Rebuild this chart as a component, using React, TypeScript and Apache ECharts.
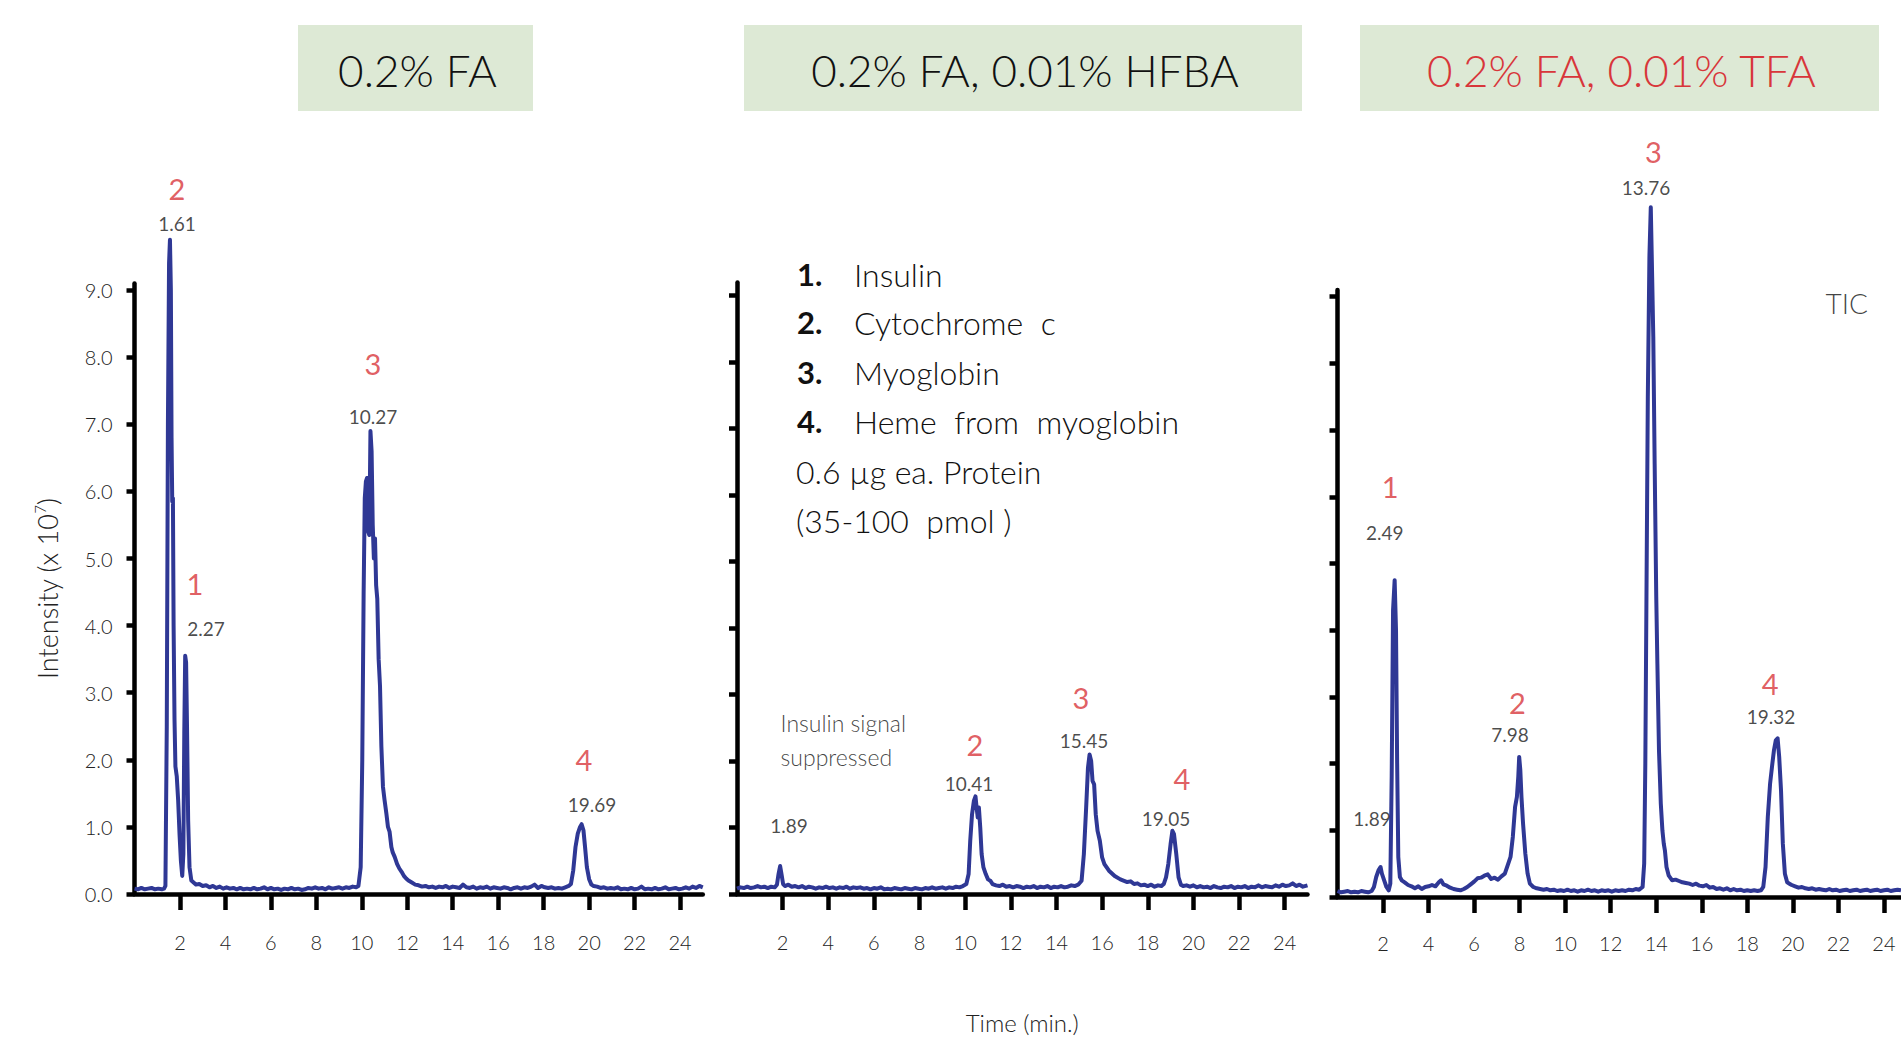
import { useEffect, useRef } from "react";
import * as echarts from "echarts";

// ---------- data ----------
const panelTitles = ["0.2% FA", "0.2% FA, 0.01% HFBA", "0.2% FA, 0.01% TFA"];
const xTickValues = [2, 4, 6, 8, 10, 12, 14, 16, 18, 20, 22, 24];
const yTickValues = [0, 1, 2, 3, 4, 5, 6, 7, 8, 9];
const yAxisTitle = "Intensity (x 10{sup|7})";
const xAxisTitle = "Time (min.)";

const traceFA: number[][] = [
  [0, 0.08], [0.15, 0.07], [0.3, 0.09], [0.45, 0.07], [0.6, 0.08], [0.75, 0.09], [0.9, 0.07], [1.05, 0.08], [1.2, 0.07], [1.3, 0.08],
  [1.36, 0.12], [1.42, 2.5], [1.47, 7.0], [1.52, 9.4], [1.56, 9.75], [1.6, 9.0], [1.63, 6.8], [1.66, 5.85], [1.69, 5.9], [1.72, 4.0],
  [1.76, 2.6], [1.8, 1.9], [1.86, 1.75], [1.92, 1.4], [1.98, 0.9], [2.04, 0.5], [2.1, 0.27], [2.15, 0.6], [2.19, 2.4], [2.23, 3.55],
  [2.27, 3.45], [2.31, 2.5], [2.36, 1.1], [2.42, 0.4], [2.5, 0.2], [2.6, 0.17], [2.7, 0.14], [2.85, 0.15], [3.0, 0.12], [3.15, 0.13],
  [3.3, 0.1], [3.45, 0.12], [3.6, 0.09], [3.75, 0.11], [3.9, 0.08], [4.05, 0.1], [4.2, 0.08], [4.35, 0.09], [4.5, 0.07], [4.65, 0.09],
  [4.8, 0.07], [4.95, 0.08], [5.1, 0.07], [5.25, 0.09], [5.4, 0.07], [5.55, 0.08], [5.7, 0.1], [5.85, 0.07], [6.0, 0.09], [6.15, 0.07],
  [6.3, 0.08], [6.45, 0.06], [6.6, 0.08], [6.75, 0.07], [6.9, 0.09], [7.05, 0.07], [7.2, 0.08], [7.35, 0.06], [7.5, 0.07], [7.65, 0.09],
  [7.8, 0.08], [7.95, 0.1], [8.1, 0.08], [8.25, 0.09], [8.4, 0.07], [8.55, 0.1], [8.7, 0.08], [8.85, 0.09], [9.0, 0.1], [9.15, 0.08],
  [9.3, 0.1], [9.45, 0.09], [9.6, 0.11], [9.75, 0.1], [9.85, 0.12], [9.95, 0.4], [10.02, 2.0], [10.08, 4.5], [10.13, 5.9], [10.18, 6.15],
  [10.23, 6.2], [10.28, 5.4], [10.33, 5.35], [10.38, 6.9], [10.43, 6.6], [10.48, 5.5], [10.53, 5.0], [10.58, 5.3], [10.63, 4.6], [10.68, 4.4],
  [10.74, 3.5], [10.8, 3.1], [10.86, 2.2], [10.93, 1.6], [11.0, 1.4], [11.08, 1.2], [11.15, 1.0], [11.22, 0.93], [11.3, 0.7], [11.36, 0.62],
  [11.45, 0.55], [11.55, 0.45], [11.65, 0.38], [11.75, 0.33], [11.85, 0.27], [11.95, 0.23], [12.05, 0.2], [12.2, 0.17], [12.35, 0.14], [12.5, 0.13],
  [12.65, 0.11], [12.8, 0.12], [12.95, 0.1], [13.1, 0.11], [13.25, 0.09], [13.4, 0.11], [13.55, 0.1], [13.7, 0.12], [13.85, 0.09], [14.0, 0.11],
  [14.15, 0.1], [14.3, 0.09], [14.45, 0.14], [14.6, 0.1], [14.75, 0.09], [14.9, 0.11], [15.05, 0.08], [15.2, 0.1], [15.35, 0.09], [15.5, 0.11],
  [15.65, 0.08], [15.8, 0.1], [15.95, 0.09], [16.1, 0.08], [16.25, 0.1], [16.4, 0.09], [16.55, 0.07], [16.7, 0.09], [16.85, 0.1], [17.0, 0.08],
  [17.15, 0.1], [17.3, 0.09], [17.45, 0.11], [17.6, 0.14], [17.75, 0.09], [17.9, 0.12], [18.05, 0.1], [18.2, 0.09], [18.35, 0.1], [18.5, 0.08],
  [18.65, 0.09], [18.8, 0.08], [18.95, 0.1], [19.1, 0.12], [19.2, 0.15], [19.3, 0.35], [19.4, 0.7], [19.5, 0.9], [19.6, 1.0], [19.67, 1.04],
  [19.75, 0.95], [19.82, 0.7], [19.9, 0.4], [20.0, 0.22], [20.1, 0.14], [20.2, 0.12], [20.35, 0.11], [20.5, 0.09], [20.65, 0.1], [20.8, 0.08],
  [20.95, 0.09], [21.1, 0.08], [21.25, 0.1], [21.4, 0.07], [21.55, 0.08], [21.7, 0.07], [21.85, 0.09], [22.0, 0.07], [22.15, 0.08], [22.3, 0.11],
  [22.45, 0.07], [22.6, 0.08], [22.75, 0.07], [22.9, 0.09], [23.05, 0.07], [23.2, 0.08], [23.35, 0.1], [23.5, 0.07], [23.65, 0.08], [23.8, 0.09],
  [23.95, 0.07], [24.1, 0.08], [24.25, 0.1], [24.4, 0.08], [24.55, 0.11], [24.7, 0.09], [24.85, 0.12], [25.0, 0.1],
];

const traceHFBA: number[][] = [
  [0, 0.08], [0.15, 0.1], [0.3, 0.09], [0.45, 0.11], [0.6, 0.09], [0.75, 0.1], [0.9, 0.12], [1.05, 0.1], [1.2, 0.11], [1.35, 0.09],
  [1.5, 0.11], [1.65, 0.1], [1.75, 0.14], [1.82, 0.3], [1.89, 0.42], [1.95, 0.3], [2.02, 0.15], [2.1, 0.12], [2.25, 0.14], [2.4, 0.11],
  [2.55, 0.12], [2.7, 0.1], [2.85, 0.12], [3.0, 0.09], [3.15, 0.11], [3.3, 0.1], [3.45, 0.08], [3.6, 0.1], [3.75, 0.09], [3.9, 0.11],
  [4.05, 0.09], [4.2, 0.1], [4.35, 0.08], [4.5, 0.1], [4.65, 0.09], [4.8, 0.11], [4.95, 0.08], [5.1, 0.1], [5.25, 0.09], [5.4, 0.1],
  [5.55, 0.08], [5.7, 0.09], [5.85, 0.07], [6.0, 0.09], [6.15, 0.08], [6.3, 0.1], [6.45, 0.07], [6.6, 0.08], [6.75, 0.07], [6.9, 0.09],
  [7.05, 0.08], [7.2, 0.07], [7.35, 0.09], [7.5, 0.08], [7.65, 0.07], [7.8, 0.09], [7.95, 0.08], [8.1, 0.07], [8.25, 0.09], [8.4, 0.08],
  [8.55, 0.1], [8.7, 0.08], [8.85, 0.09], [9.0, 0.1], [9.15, 0.08], [9.3, 0.1], [9.45, 0.09], [9.6, 0.11], [9.75, 0.1], [9.9, 0.12],
  [10.05, 0.15], [10.15, 0.3], [10.22, 0.8], [10.3, 1.2], [10.38, 1.4], [10.45, 1.47], [10.5, 1.3], [10.55, 1.15], [10.6, 1.3], [10.66, 1.0],
  [10.72, 0.6], [10.8, 0.4], [10.9, 0.3], [11.0, 0.22], [11.1, 0.2], [11.2, 0.15], [11.35, 0.13], [11.5, 0.12], [11.65, 0.14], [11.8, 0.11],
  [11.95, 0.12], [12.1, 0.1], [12.25, 0.12], [12.4, 0.11], [12.55, 0.09], [12.7, 0.11], [12.85, 0.1], [13.0, 0.12], [13.15, 0.09], [13.3, 0.11],
  [13.45, 0.1], [13.6, 0.12], [13.75, 0.09], [13.9, 0.11], [14.05, 0.1], [14.2, 0.12], [14.35, 0.1], [14.5, 0.11], [14.65, 0.13], [14.8, 0.12],
  [14.95, 0.14], [15.1, 0.2], [15.2, 0.6], [15.3, 1.3], [15.38, 1.9], [15.45, 2.1], [15.52, 2.0], [15.58, 1.7], [15.65, 1.65], [15.72, 1.2],
  [15.8, 0.95], [15.9, 0.8], [16.0, 0.55], [16.1, 0.45], [16.3, 0.35], [16.55, 0.27], [16.8, 0.22], [17.1, 0.18], [17.25, 0.19], [17.4, 0.15],
  [17.55, 0.16], [17.7, 0.13], [17.85, 0.14], [18.0, 0.12], [18.15, 0.14], [18.3, 0.11], [18.45, 0.13], [18.6, 0.12], [18.7, 0.15], [18.8, 0.25],
  [18.9, 0.45], [19.0, 0.75], [19.08, 0.95], [19.15, 0.9], [19.25, 0.6], [19.35, 0.25], [19.45, 0.14], [19.55, 0.12], [19.7, 0.13], [19.85, 0.11],
  [20.0, 0.13], [20.15, 0.1], [20.3, 0.12], [20.45, 0.1], [20.6, 0.11], [20.75, 0.09], [20.9, 0.12], [21.05, 0.1], [21.2, 0.09], [21.35, 0.11],
  [21.5, 0.1], [21.65, 0.12], [21.8, 0.09], [21.95, 0.11], [22.1, 0.1], [22.25, 0.12], [22.4, 0.09], [22.55, 0.11], [22.7, 0.1], [22.85, 0.13],
  [23.0, 0.1], [23.15, 0.12], [23.3, 0.11], [23.45, 0.1], [23.6, 0.13], [23.75, 0.11], [23.9, 0.14], [24.05, 0.12], [24.2, 0.13], [24.35, 0.16],
  [24.5, 0.12], [24.65, 0.14], [24.8, 0.11], [25.0, 0.13],
];

const traceTFA: number[][] = [
  [0, 0.09], [0.15, 0.07], [0.3, 0.08], [0.45, 0.09], [0.6, 0.07], [0.75, 0.08], [0.9, 0.07], [1.05, 0.09], [1.2, 0.08], [1.35, 0.07],
  [1.5, 0.09], [1.6, 0.15], [1.7, 0.3], [1.8, 0.4], [1.89, 0.45], [1.95, 0.35], [2.05, 0.25], [2.15, 0.15], [2.25, 0.1], [2.32, 0.2],
  [2.38, 1.8], [2.44, 4.3], [2.51, 4.75], [2.57, 4.0], [2.62, 2.0], [2.67, 0.6], [2.74, 0.3], [2.82, 0.25], [2.95, 0.22], [3.1, 0.18],
  [3.25, 0.16], [3.4, 0.13], [3.55, 0.16], [3.7, 0.12], [3.85, 0.15], [4.0, 0.16], [4.15, 0.18], [4.3, 0.16], [4.45, 0.22], [4.55, 0.25],
  [4.65, 0.19], [4.8, 0.17], [4.95, 0.14], [5.1, 0.12], [5.25, 0.11], [5.4, 0.1], [5.55, 0.12], [5.7, 0.15], [5.85, 0.19], [6.0, 0.23],
  [6.15, 0.28], [6.3, 0.29], [6.45, 0.32], [6.6, 0.34], [6.75, 0.27], [6.9, 0.29], [7.05, 0.26], [7.2, 0.31], [7.35, 0.35], [7.5, 0.5],
  [7.6, 0.6], [7.7, 0.9], [7.8, 1.35], [7.88, 1.5], [7.94, 1.8], [7.98, 2.1], [8.03, 1.9], [8.08, 1.5], [8.15, 1.1], [8.25, 0.65],
  [8.35, 0.35], [8.45, 0.2], [8.6, 0.15], [8.75, 0.13], [8.9, 0.12], [9.05, 0.11], [9.2, 0.12], [9.35, 0.1], [9.5, 0.11], [9.65, 0.09],
  [9.8, 0.1], [9.95, 0.09], [10.1, 0.11], [10.25, 0.09], [10.4, 0.1], [10.55, 0.08], [10.7, 0.1], [10.85, 0.09], [11.0, 0.11], [11.15, 0.09],
  [11.3, 0.1], [11.45, 0.08], [11.6, 0.1], [11.75, 0.09], [11.9, 0.1], [12.05, 0.08], [12.2, 0.1], [12.35, 0.09], [12.5, 0.1], [12.65, 0.09],
  [12.8, 0.11], [12.95, 0.1], [13.1, 0.12], [13.25, 0.11], [13.4, 0.15], [13.47, 0.5], [13.52, 2.0], [13.57, 4.5], [13.63, 7.5], [13.7, 9.6],
  [13.76, 10.34], [13.82, 9.3], [13.87, 8.4], [13.93, 6.5], [14.0, 4.5], [14.05, 3.5], [14.12, 2.2], [14.2, 1.4], [14.27, 1.0], [14.33, 0.8],
  [14.38, 0.7], [14.45, 0.45], [14.55, 0.32], [14.7, 0.25], [14.85, 0.26], [15.0, 0.24], [15.15, 0.22], [15.3, 0.21], [15.45, 0.2], [15.6, 0.18],
  [15.75, 0.2], [15.9, 0.17], [16.05, 0.16], [16.2, 0.18], [16.35, 0.14], [16.5, 0.15], [16.65, 0.12], [16.8, 0.13], [16.95, 0.11], [17.1, 0.13],
  [17.25, 0.1], [17.4, 0.12], [17.55, 0.1], [17.7, 0.11], [17.85, 0.09], [18.0, 0.1], [18.15, 0.09], [18.3, 0.1], [18.45, 0.09], [18.6, 0.1],
  [18.7, 0.15], [18.8, 0.45], [18.9, 1.2], [19.0, 1.7], [19.1, 2.0], [19.17, 2.2], [19.25, 2.35], [19.33, 2.38], [19.4, 2.1], [19.48, 1.6],
  [19.56, 0.8], [19.65, 0.35], [19.75, 0.22], [19.85, 0.2], [19.95, 0.18], [20.1, 0.16], [20.25, 0.14], [20.4, 0.15], [20.55, 0.13], [20.7, 0.12],
  [20.85, 0.13], [21.0, 0.11], [21.15, 0.12], [21.3, 0.11], [21.45, 0.1], [21.6, 0.12], [21.75, 0.1], [21.9, 0.11], [22.05, 0.09], [22.2, 0.1],
  [22.35, 0.11], [22.5, 0.09], [22.65, 0.1], [22.8, 0.11], [22.95, 0.09], [23.1, 0.1], [23.25, 0.11], [23.4, 0.09], [23.55, 0.1], [23.7, 0.11],
  [23.85, 0.09], [24.0, 0.1], [24.15, 0.11], [24.3, 0.09], [24.45, 0.1], [24.6, 0.11], [24.75, 0.1],
];

// peak identities (red) and retention-time labels, anchored in data units
const peakIdsFA = ["2", "1", "3", "4"];
const peakIdAtFA = [[1.87, 10.52], [2.66, 4.63], [10.49, 7.9], [19.77, 2.01]];
const rtTextFA = ["1.61", "2.27", "10.27", "19.69"];
const rtAtFA = [[1.87, 10.0], [3.15, 3.96], [10.49, 7.12], [20.13, 1.34]];

const peakIdsHFBA = ["2", "3", "4"];
const peakIdAtHFBA = [[10.42, 2.25], [15.07, 2.96], [19.5, 1.74]];
const rtTextHFBA = ["1.89", "10.41", "15.45", "19.05"];
const rtAtHFBA = [[2.28, 1.03], [10.17, 1.66], [15.21, 2.31], [18.8, 1.14]];
const noteHFBA = "Insulin signal\nsuppressed";
const noteAtHFBA = [1.91, 2.32];

const peakIdsTFA = ["1", "2", "3", "4"];
const peakIdAtTFA = [[2.31, 6.15], [7.9, 2.92], [13.88, 11.17], [19.0, 3.2]];
const rtTextTFA = ["1.89", "2.49", "7.98", "13.76", "19.32"];
const rtAtTFA = [[1.52, 1.18], [2.08, 5.46], [7.58, 2.44], [13.55, 10.64], [19.04, 2.71]];
const noteTFA = "TIC";
const noteAtTFA = [22.37, 8.9];

const legendNumbers = ["1.", "2.", "3.", "4."];
const legendNames = ["Insulin", "Cytochrome  c", "Myoglobin", "Heme  from  myoglobin"];
const legendExtra = ["0.6 µg ea. Protein", "(35-100  pmol )"];

// ---------- styling ----------
const FONT = "Lato, 'Noto Sans', sans-serif";
const RED = "#d8363a";
const LINE = "#2f3895";
const BOX = "#dde9d5";

export default function App() {
  const ref = useRef<HTMLDivElement>(null);

  useEffect(() => {
    if (!ref.current) return;
    const chart = echarts.init(ref.current, undefined, { renderer: "svg" });

    const grids = [
      { left: 134.5, top: 283.4, width: 568.3, height: 610.6 },
      { left: 737, top: 282.4, width: 570.5, height: 614.6 },
      { left: 1337.5, top: 290, width: 563.5, height: 607 },
    ];
    const xMax = [25, 25, 24.75];
    const yMax = [9.1, 9.2, 9.1];

    const xAxes = grids.map((_, i) => ({
      type: "value",
      gridIndex: i,
      min: 0,
      max: xMax[i],
      axisLine: { show: true, onZero: false, lineStyle: { color: "#000", width: 4.5 } },
      axisTick: {
        show: true,
        customValues: xTickValues,
        length: 16,
        lineStyle: { color: "#000", width: 4.5 },
      },
      axisLabel: {
        show: true,
        customValues: xTickValues,
        margin: i === 2 ? 36 : 38,
        fontSize: 20,
        color: "#222",
        fontFamily: FONT,
        fontWeight: 300,
      },
      splitLine: { show: false },
      ...(i === 1
        ? {
            name: xAxisTitle,
            nameLocation: "middle",
            nameGap: 116,
            nameTextStyle: { fontSize: 24, color: "#222", fontFamily: FONT, fontWeight: 300 },
          }
        : {}),
    }));

    const yAxes = grids.map((_, i) => ({
      type: "value",
      gridIndex: i,
      min: 0,
      max: yMax[i],
      axisLine: { show: true, onZero: false, lineStyle: { color: "#000", width: 4.5 } },
      axisTick: {
        show: true,
        customValues: yTickValues,
        length: 8,
        lineStyle: { color: "#000", width: 4.5 },
      },
      axisLabel: {
        show: i === 0,
        customValues: yTickValues,
        formatter: (v: number) => v.toFixed(1),
        margin: 22,
        fontSize: 20,
        color: "#222",
        fontFamily: FONT,
        fontWeight: 300,
      },
      splitLine: { show: false },
      ...(i === 0
        ? {
            name: yAxisTitle,
            nameLocation: "middle",
            nameGap: 73,
            nameRotate: 90,
            nameTextStyle: {
              fontSize: 27,
              color: "#222",
              fontFamily: FONT,
              fontWeight: 300,
              rich: { sup: { fontSize: 15, fontFamily: FONT, color: "#222", fontWeight: 300, padding: [0, 0, 14, 0] } },
            },
          }
        : {}),
    }));

    const traces = [traceFA, traceHFBA, traceTFA];
    const lineSeries = traces.map((d, i) => ({
      type: "line",
      xAxisIndex: i,
      yAxisIndex: i,
      data: d,
      showSymbol: false,
      symbol: "none",
      clip: false,
      silent: true,
      lineStyle: { color: LINE, width: 4, join: "round" },
      z: 3,
    }));

    const makeLabels = (
      i: number,
      ids: string[],
      idAt: number[][],
      rts: string[],
      rtAt: number[][],
      note?: string,
      noteAt?: number[],
      noteSize?: number,
      noteAlign?: string
    ) => {
      const data: any[] = [];
      ids.forEach((t, k) =>
        data.push({
          value: idAt[k],
          label: { formatter: t, color: RED, fontSize: 29, fontWeight: "normal" },
        })
      );
      rts.forEach((t, k) =>
        data.push({
          value: rtAt[k],
          label: { formatter: t, color: "#1c1c1c", fontSize: 19, fontWeight: "normal" },
        })
      );
      if (note && noteAt) {
        data.push({
          value: noteAt,
          label: {
            formatter: note,
            color: "#111",
            fontSize: noteSize,
            fontWeight: 300,
            align: noteAlign,
            lineHeight: 34,
          },
        });
      }
      return {
        type: "scatter",
        xAxisIndex: i,
        yAxisIndex: i,
        symbolSize: 0,
        clip: false,
        silent: true,
        z: 5,
        label: {
          show: true,
          position: "inside",
          align: "center",
          verticalAlign: "middle",
          fontFamily: FONT,
        },
        data,
      };
    };

    const labelSeries = [
      makeLabels(0, peakIdsFA, peakIdAtFA, rtTextFA, rtAtFA),
      makeLabels(1, peakIdsHFBA, peakIdAtHFBA, rtTextHFBA, rtAtHFBA, noteHFBA, noteAtHFBA, 23, "left"),
      makeLabels(2, peakIdsTFA, peakIdAtTFA, rtTextTFA, rtAtTFA, noteTFA, noteAtTFA, 28, "center"),
    ];

    const boxes = [
      { x: 298, w: 235 },
      { x: 744, w: 558 },
      { x: 1360, w: 519 },
    ];
    const graphic: any[] = [];
    boxes.forEach((b, i) => {
      graphic.push({
        type: "rect",
        shape: { x: b.x, y: 25, width: b.w, height: 86 },
        style: { fill: BOX },
        silent: true,
      });
      graphic.push({
        type: "text",
        x: b.x + b.w / 2 + 2,
        y: 70,
        style: {
          text: panelTitles[i],
          fill: i === 2 ? RED : "#111",
          font: `300 44px ${FONT}`,
          textAlign: "center",
          textVerticalAlign: "middle",
          align: "center",
          verticalAlign: "middle",
        },
        silent: true,
      });
    });
    const legendY = [274, 322, 372, 421];
    legendNumbers.forEach((n, k) => {
      graphic.push({
        type: "text",
        x: 797,
        y: legendY[k],
        style: {
          text: n,
          fill: "#111",
          font: `bold 31px ${FONT}`,
          textVerticalAlign: "middle",
          verticalAlign: "middle",
        },
        silent: true,
      });
      graphic.push({
        type: "text",
        x: 854,
        y: legendY[k],
        style: {
          text: legendNames[k],
          fill: "#111",
          font: `300 32px ${FONT}`,
          textVerticalAlign: "middle",
          verticalAlign: "middle",
        },
        silent: true,
      });
    });
    [471, 520].forEach((y, k) => {
      graphic.push({
        type: "text",
        x: 796,
        y,
        style: {
          text: legendExtra[k],
          fill: "#111",
          font: `300 32px ${FONT}`,
          textVerticalAlign: "middle",
          verticalAlign: "middle",
        },
        silent: true,
      });
    });

    chart.setOption({
      animation: false,
      backgroundColor: "#ffffff",
      textStyle: { fontFamily: FONT },
      grid: grids,
      xAxis: xAxes,
      yAxis: yAxes,
      series: [...lineSeries, ...labelSeries],
      graphic,
    });

    return () => chart.dispose();
  }, []);

  return (
    <div
      ref={ref}
      style={{ position: "absolute", left: 0, top: 0, width: 1901, height: 1039, overflow: "hidden" }}
    />
  );
}
